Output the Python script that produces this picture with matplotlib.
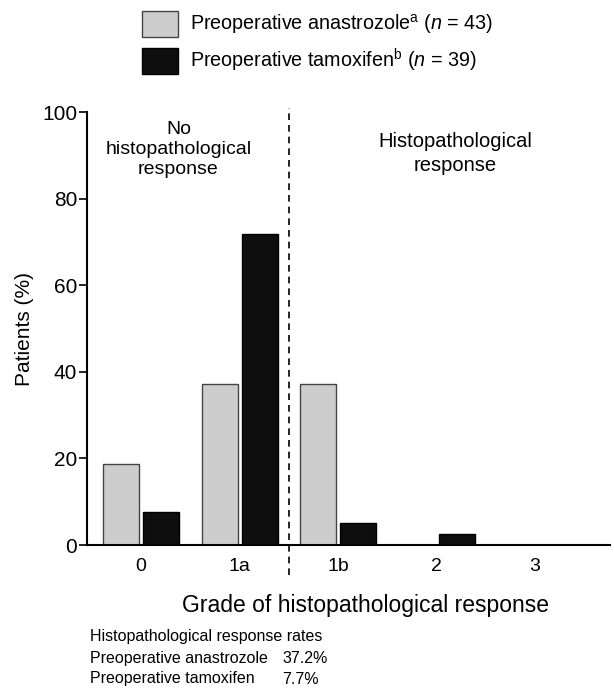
import numpy as np
import matplotlib
matplotlib.use('Agg')
import matplotlib.pyplot as plt
from matplotlib.patches import Patch

plt.rcParams['font.family'] = ['Liberation Sans', 'DejaVu Sans']
plt.rcParams['mathtext.fontset'] = 'custom'
plt.rcParams['mathtext.rm'] = 'Liberation Sans'
plt.rcParams['mathtext.it'] = 'Liberation Sans:italic'

grades = ['0', '1a', '1b', '2', '3']
anastrozole = [18.6, 37.2, 37.2, 0, 0]
tamoxifen = [7.7, 71.8, 5.1, 2.6, 0]
rate_names = ['Preoperative anastrozole', 'Preoperative tamoxifen']
rate_values = ['37.2%', '7.7%']

grey = '#cdcdcd'
dark = '#0e0e0e'

fig = plt.figure(figsize=(6.14, 7.0), dpi=100)
ax = fig.add_axes([0.1417, 0.2214, 0.8518, 0.6186])

x = np.arange(len(grades))
w = 0.365
off = 0.203
ax.bar(x - off, anastrozole, w, color=grey, edgecolor='#444444', linewidth=1.0)
ax.bar(x + off, tamoxifen, w, color=dark, edgecolor='black', linewidth=1.0)

ax.set_xticks(x)
ax.set_xticklabels(grades)
ax.set_xlim(-0.548, 4.76)
ax.set_ylim(0, 100)
ax.set_yticks([0, 20, 40, 60, 80, 100])
ax.tick_params(axis='x', length=0, pad=9, labelsize=14)
ax.tick_params(axis='y', length=6, width=1.2, pad=1, labelsize=15)
for s in ['top', 'right']:
    ax.spines[s].set_visible(False)
ax.spines['left'].set_linewidth(1.5)
ax.spines['bottom'].set_linewidth(1.5)

# divider between non-responders and responders
ax.plot([1.5, 1.5], [-7, 101], ls=(0, (4, 3)), color='black', lw=1.2, clip_on=False)

ax.text(0.38, 98, 'No\nhistopathological\nresponse', ha='center', va='top', fontsize=14, linespacing=1.25)
ax.text(3.19, 95.3, 'Histopathological\nresponse', ha='center', va='top', fontsize=14.5, linespacing=1.3)

ax.set_ylabel('Patients (%)', fontsize=15, labelpad=6)
ax.set_xlabel('Grade of histopathological response', fontsize=16.5, labelpad=14, x=0.532)

handles = [Patch(facecolor=grey, edgecolor='#444444'), Patch(facecolor=dark, edgecolor='black')]
labels = [r'Preoperative anastrozole$^{\mathrm{a}}$ ($n$ = 43)',
          r'Preoperative tamoxifen$^{\mathrm{b}}$ ($n$ = 39)']
fig.legend(handles, labels, loc='upper left', bbox_to_anchor=(0.202, 1.01), frameon=False,
           fontsize=14.2, handlelength=1.85, handleheight=1.65, handletextpad=0.6, labelspacing=0.5)

fig.text(0.147, 0.09, 'Histopathological response rates', fontsize=11.5, va='center')
for i in range(len(rate_names)):
    fig.text(0.147, 0.059 - i * 0.029, rate_names[i], fontsize=11.5, va='center')
    fig.text(0.46, 0.059 - i * 0.029, rate_values[i], fontsize=11.5, va='center')

fig.savefig('out.png', dpi=100)
